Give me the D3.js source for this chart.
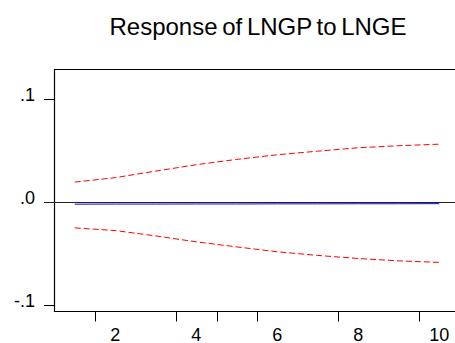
<!DOCTYPE html>
<html>
<head>
<meta charset="utf-8">
<script src="https://cdn.jsdelivr.net/npm/d3@7"></script>
<style>
  html, body { margin: 0; padding: 0; background: #fff; overflow: hidden; }
  svg { display: block; font-family: 'Liberation Sans', Arial, sans-serif; }
</style>
</head>
<body>
<div id="chart"></div>
<script>
const periods = [1, 2, 3, 4, 5, 6, 7, 8, 9, 10];
const response = [-0.0021, -0.0020, -0.0020, -0.0019, -0.0019, -0.0018, -0.0018, -0.0017, -0.0017, -0.0016];
const upperBand = [0.0194, 0.0237, 0.0301, 0.0363, 0.0415, 0.0460, 0.0495, 0.0528, 0.0548, 0.0563];
const lowerBand = [-0.0252, -0.0278, -0.0330, -0.0388, -0.0437, -0.0485, -0.0520, -0.0550, -0.0573, -0.0588];
const xLabels = [2, 4, 6, 8, 10];
const xTickMarks = [1.5, 3.5, 4.5, 5.5, 7.5, 9.5];
const yTicks = [0.1, 0, -0.1];
const yTickLabels = ['.1', '.0', '-.1'];
const title = 'Response of LNGP to LNGE';

const width = 455;
const height = 343;

const svg = d3.select('#chart')
  .append('svg')
  .attr('width', width)
  .attr('height', height);

// plot box runs past the right edge of the window, as in the original
const x = d3.scaleLinear().domain([0.5, 10.5]).range([54.5, 459.5]);
const y = d3.scaleLinear().domain([-0.1066, 0.129]).range([311.5, 69.5]);

svg.append('text')
  .attr('x', 258)
  .attr('y', 35)
  .attr('text-anchor', 'middle')
  .style('font-size', '24px')
  .style('word-spacing', '-2px')
  .text(title);

// frame (left, top, bottom)
svg.append('path')
  .attr('d', `M${x(10.5)},${y.range()[1]}H${x(0.5)}V${y.range()[0]}H${x(10.5)}`)
  .attr('fill', 'none')
  .attr('stroke', '#000')
  .attr('stroke-width', 1.2);

// y ticks and labels
svg.selectAll('.ytick')
  .data(yTicks)
  .enter()
  .append('line')
  .attr('x1', 44)
  .attr('x2', x(0.5))
  .attr('y1', (d) => Math.round(y(d)) + 0.5)
  .attr('y2', (d) => Math.round(y(d)) + 0.5)
  .attr('stroke', '#000');

svg.selectAll('.ylab')
  .data(yTicks)
  .enter()
  .append('text')
  .attr('x', 35)
  .attr('y', (d) => y(d) + 2)
  .attr('text-anchor', 'end')
  .style('font-size', '18px')
  .text((d, i) => yTickLabels[i]);

// x ticks sit between periods, labels on the periods
svg.selectAll('.xtick')
  .data(xTickMarks)
  .enter()
  .append('line')
  .attr('x1', (d) => Math.round(x(d)) + 0.5)
  .attr('x2', (d) => Math.round(x(d)) + 0.5)
  .attr('y1', y.range()[0])
  .attr('y2', y.range()[0] + 10)
  .attr('stroke', '#000');

svg.selectAll('.xlab')
  .data(xLabels)
  .enter()
  .append('text')
  .attr('x', (d) => x(d))
  .attr('y', 341)
  .attr('text-anchor', 'middle')
  .style('font-size', '18px')
  .text((d) => d);

// zero line
svg.append('line')
  .attr('x1', 44)
  .attr('x2', width)
  .attr('y1', Math.round(y(0)) + 0.5)
  .attr('y2', Math.round(y(0)) + 0.5)
  .attr('stroke', '#222');

const line = d3.line()
  .x((d) => x(d[0]))
  .y((d) => y(d[1]));

svg.append('path')
  .datum(periods.map((p, i) => [p, upperBand[i]]))
  .attr('d', line)
  .attr('fill', 'none')
  .attr('stroke', '#ff0000')
  .attr('stroke-dasharray', '6,3');

svg.append('path')
  .datum(periods.map((p, i) => [p, lowerBand[i]]))
  .attr('d', line)
  .attr('fill', 'none')
  .attr('stroke', '#ff0000')
  .attr('stroke-dasharray', '6,3');

svg.append('path')
  .datum(periods.map((p, i) => [p, response[i]]))
  .attr('d', line)
  .attr('fill', 'none')
  .attr('stroke', '#0000ff');
</script>
</body>
</html>
